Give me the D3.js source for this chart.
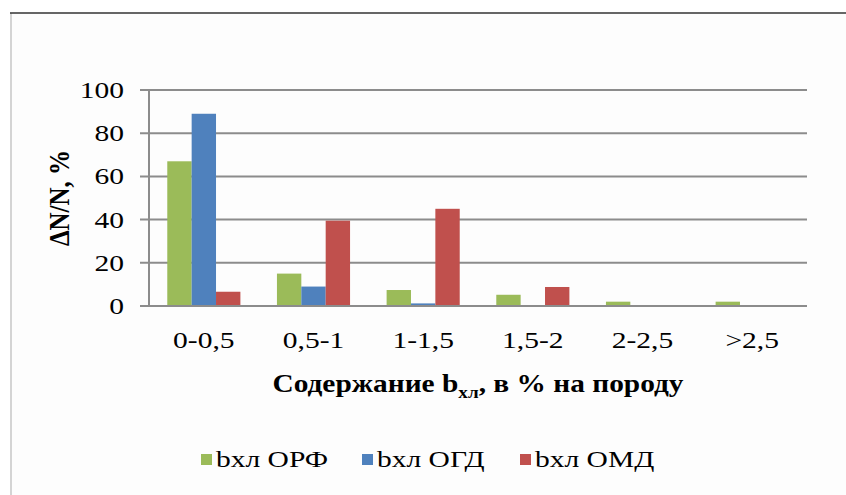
<!DOCTYPE html>
<html>
<head>
  <meta charset="utf-8">
  <title>ΔN/N</title>
  <style>
    body { margin: 0; background: #fff; }
    text { font-family: "Liberation Serif", "Times New Roman", serif; fill: #000; }
  </style>
</head>
<body>
  <svg width="846" height="495"></svg>
  <script src="https://d3js.org/d3.v7.min.js"></script>
  <script>
    // data
    var categories = ["0-0,5", "0,5-1", "1-1,5", "1,5-2", "2-2,5", ">2,5"];
    var seriesNames = ["bхл ОРФ", "bхл ОГД", "bхл ОМД"];
    var orf = [67, 15, 7.4, 5.2, 2, 2];
    var ogd = [89, 9, 1.2, 0, 0, 0];
    var omd = [6.6, 39.5, 45, 8.8, 0, 0];
    var yTicks = [0, 20, 40, 60, 80, 100];
    var colors = ["#9bbb59", "#4f81bd", "#c0504d"];

    var values = [orf, ogd, omd];

    var svg = d3.select("svg");
    var sx = 1.23; // the source text is stretched sideways

    // frame
    svg.append("rect").attr("x", 11).attr("y", 13).attr("width", 840).attr("height", 490)
      .attr("fill", "#fdfdfd");
    svg.append("line").attr("x1", 11).attr("x2", 11).attr("y1", 13).attr("y2", 495)
      .attr("stroke", "#d4d4d4").attr("stroke-width", 2);
    svg.append("line").attr("x1", 10).attr("x2", 846).attr("y1", 13).attr("y2", 13)
      .attr("stroke", "#333").attr("stroke-width", 1.5);

    var pLeft = 149, pRight = 807, pTop = 90, pBottom = 306;

    var x = d3.scaleBand().domain(categories).range([pLeft, pRight]);
    var inner = d3.scaleBand().domain(seriesNames)
      .range([0, x.bandwidth() * 3 / 4.5]);
    var y = d3.scaleLinear().domain([0, 100]).range([pBottom, pTop]);

    // gridlines
    svg.append("g").selectAll("line")
      .data(yTicks)
      .enter().append("line")
      .attr("x1", pLeft - 9).attr("x2", pRight)
      .attr("y1", function (d) { return y(d); })
      .attr("y2", function (d) { return y(d); })
      .attr("stroke", "#8c8c8c").attr("stroke-width", 2);

    svg.append("line").attr("x1", pLeft).attr("x2", pLeft).attr("y1", pTop).attr("y2", pBottom)
      .attr("stroke", "#8c8c8c").attr("stroke-width", 2);

    // y tick labels
    svg.append("g").selectAll("text")
      .data(yTicks)
      .enter().append("text")
      .attr("transform", function (d) { return "translate(124," + y(d) + ")scale(" + sx + ",1)"; })
      .attr("dy", "0.33em")
      .attr("text-anchor", "end")
      .style("font-size", "24px")
      .text(function (d) { return d; });

    // bars
    var groups = svg.append("g").selectAll("g")
      .data(seriesNames)
      .enter().append("g")
      .attr("fill", function (d, i) { return colors[i]; });

    groups.selectAll("rect")
      .data(function (d, i) {
        return categories.map(function (c, j) { return { cat: c, s: d, v: values[i][j] }; });
      })
      .enter().append("rect")
      .filter(function (d) { return d.v > 0; })
      .attr("x", function (d) { return x(d.cat) + x.bandwidth() * 0.75 / 4.5 + inner(d.s); })
      .attr("width", inner.bandwidth())
      .attr("y", function (d) { return y(d.v); })
      .attr("height", function (d) { return y(0) - y(d.v) - 1; });

    // x labels
    svg.append("g").selectAll("text")
      .data(categories)
      .enter().append("text")
      .attr("transform", function (d) { return "translate(" + (x(d) + x.bandwidth() / 2) + ",348)scale(" + sx + ",1)"; })
      .attr("text-anchor", "middle")
      .style("font-size", "24px")
      .text(function (d) { return d; });

    // axis titles
    var xt = svg.append("text")
      .attr("transform", "translate(" + (pLeft + pRight) / 2 + ",392)scale(1.13,1)")
      .attr("text-anchor", "middle")
      .style("font-size", "26px").style("font-weight", "bold");
    xt.append("tspan").text("Содержание b");
    xt.append("tspan").attr("dy", 6).style("font-size", "17px").text("хл");
    xt.append("tspan").attr("dy", -6).text(", в % на породу");

    svg.append("text")
      .attr("transform", "translate(69," + (pTop + pBottom) / 2 + ")scale(1.15,1)rotate(-90)")
      .attr("text-anchor", "middle")
      .style("font-size", "25px").style("font-weight", "bold")
      .text("ΔN/N, %");

    // legend
    var legendX = [201, 362, 520];
    var legend = svg.append("g").selectAll("g")
      .data(seriesNames)
      .enter().append("g")
      .attr("transform", function (d, i) { return "translate(" + legendX[i] + ",454)"; });
    legend.append("rect").attr("width", 11).attr("height", 11)
      .attr("fill", function (d, i) { return colors[i]; });
    legend.append("text")
      .attr("transform", "translate(15,13)scale(" + sx + ",1)")
      .style("font-size", "24px")
      .text(function (d) { return d; });
  </script>
</body>
</html>
